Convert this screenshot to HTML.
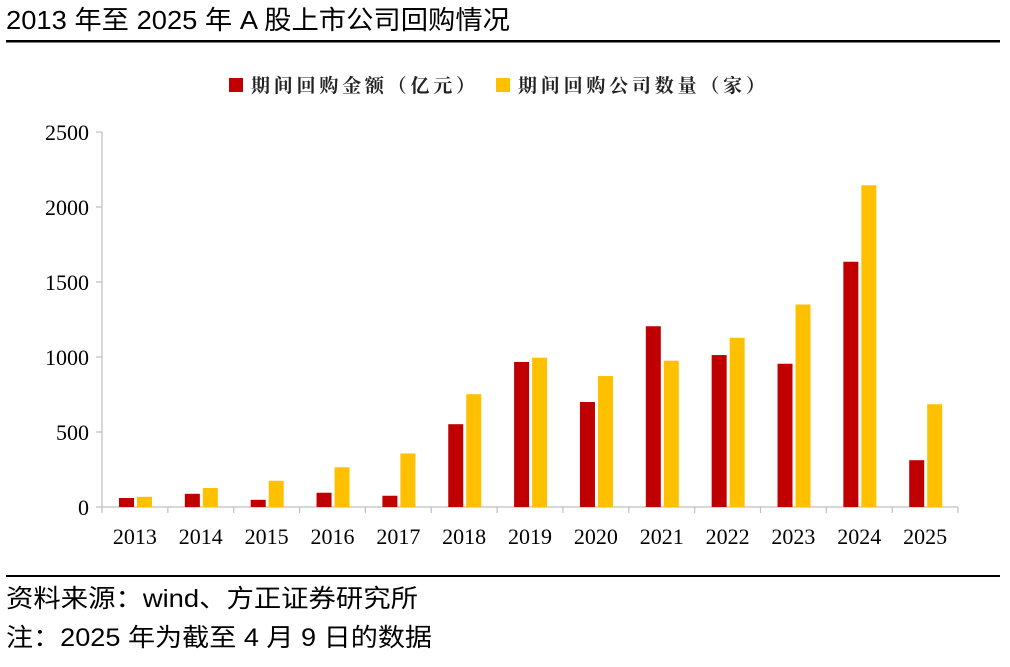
<!DOCTYPE html>
<html><head><meta charset="utf-8"><style>
body{margin:0;width:1010px;height:662px;background:#fff;overflow:hidden;font-family:"Liberation Sans","Noto Sans CJK SC",sans-serif;}
</style></head><body>
<svg width="1010" height="662" xmlns="http://www.w3.org/2000/svg">
<text x="6" y="29" font-size="26" fill="#000" textLength="504" lengthAdjust="spacingAndGlyphs" font-family="Liberation Sans, Noto Sans CJK SC, sans-serif">2013 年至 2025 年 A 股上市公司回购情况</text>
<rect x="6" y="40" width="994" height="2.5" fill="#000"/>
<rect x="229" y="78" width="14" height="14" fill="#C00000"/>
<text x="251" y="92" font-size="19" font-weight="bold" fill="#222" textLength="224" lengthAdjust="spacing" font-family="Noto Serif CJK SC, serif">期间回购金额（亿元）</text>
<rect x="496" y="78" width="14" height="14" fill="#FFC000"/>
<text x="518" y="92" font-size="19" font-weight="bold" fill="#222" textLength="247" lengthAdjust="spacing" font-family="Noto Serif CJK SC, serif">期间回购公司数量（家）</text>
<g font-family="Liberation Serif, serif" font-size="22" fill="#000" text-anchor="end">
<text x="89" y="140">2500</text><text x="89" y="215">2000</text><text x="89" y="290">1500</text>
<text x="89" y="365">1000</text><text x="89" y="440">500</text><text x="89" y="515">0</text>
</g>
<g stroke="#bfbfbf" stroke-width="1.2">
<line x1="102" y1="132" x2="102" y2="512"/>
<line x1="96" y1="132" x2="102" y2="132"/><line x1="96" y1="207" x2="102" y2="207"/>
<line x1="96" y1="282" x2="102" y2="282"/><line x1="96" y1="357" x2="102" y2="357"/>
<line x1="96" y1="432" x2="102" y2="432"/><line x1="96" y1="507" x2="958" y2="507"/>
</g>
<g id="bars"></g>
<g id="ticks" stroke="#bfbfbf" stroke-width="1.2"></g>
<g id="labels" font-family="Liberation Serif, serif" font-size="22" fill="#000" text-anchor="middle"></g>
<rect x="6" y="575" width="994" height="2" fill="#000"/>
<text x="6" y="607" font-size="25" fill="#000" textLength="412" lengthAdjust="spacingAndGlyphs">资料来源：wind、方正证券研究所</text>
<text x="6" y="646" font-size="25" fill="#000" textLength="426" lengthAdjust="spacingAndGlyphs">注：2025 年为截至 4 月 9 日的数据</text>
<script>
var r=[60,88,48,95,75,552,967,700,1205,1013,955,1635,312],y=[68,127,175,265,357,752,995,873,975,1128,1350,2145,685];
var b=document.getElementById('bars'),t=document.getElementById('ticks'),l=document.getElementById('labels'),ns='http://www.w3.org/2000/svg',w=65.85;
function el(p,n,a){var e=document.createElementNS(ns,n);for(var k in a)e.setAttribute(k,a[k]);p.appendChild(e);return e;}
for(var i=0;i<13;i++){var x0=102+i*w;
el(b,'rect',{x:x0+17,y:507-r[i]*0.15,width:15,height:r[i]*0.15,fill:'#C00000'});
el(b,'rect',{x:x0+35,y:507-y[i]*0.15,width:15,height:y[i]*0.15,fill:'#FFC000'});
el(t,'line',{x1:x0,y1:507,x2:x0,y2:513});
var tx=el(l,'text',{x:x0+w/2,y:544});tx.textContent=2013+i;}
el(t,'line',{x1:958,y1:507,x2:958,y2:513});
</script>
</svg>
</body></html>
